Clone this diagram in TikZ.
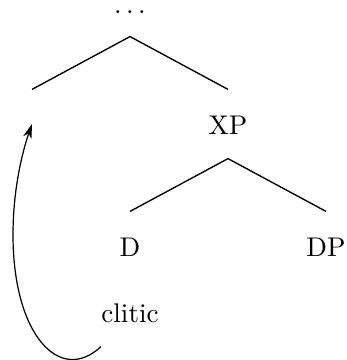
\documentclass[tikz,border=0pt]{standalone}
\usetikzlibrary{arrows.meta}
\begin{document}
\begin{tikzpicture}[x=0.37pt,y=-0.37pt,
  treenode/.style={inner xsep=0pt,inner ysep=8.9pt,text height=7.4pt,text depth=0pt,anchor=base},
  rootnode/.style={inner xsep=0pt,inner ysep=1pt,text height=1pt,text depth=7.15pt,anchor=base},
  branch/.style={line width=0.5pt},
  move/.style={line width=0.45pt,-{Stealth[length=5.3pt,width=3.2pt,inset=1.6pt]}}]
\useasboundingbox (0,0) rectangle (346,360);
\node[rootnode] (top) at (130,14) {$\ldots$};
\node[treenode,minimum width=1pt] (empty) at (32,134) {};
\node[treenode] (xp) at (228,134) {XP};
\node[treenode] (d) at (130,256) {D};
\node[treenode] (dp) at (326,256) {DP};
\node[treenode] (clitic) at (130,322) {clitic};
\draw[branch] (top.south) -- (empty.north);
\draw[branch] (top.south) -- (xp.north);
\draw[branch] (xp.south) -- (d.north);
\draw[branch] (xp.south) -- (dp.north);
\draw[move] (clitic.south west) .. controls (60,385) and (13,335) .. (13,235)
  .. controls (13,190) and (22,153) .. (empty.center);
\end{tikzpicture}
\end{document}
